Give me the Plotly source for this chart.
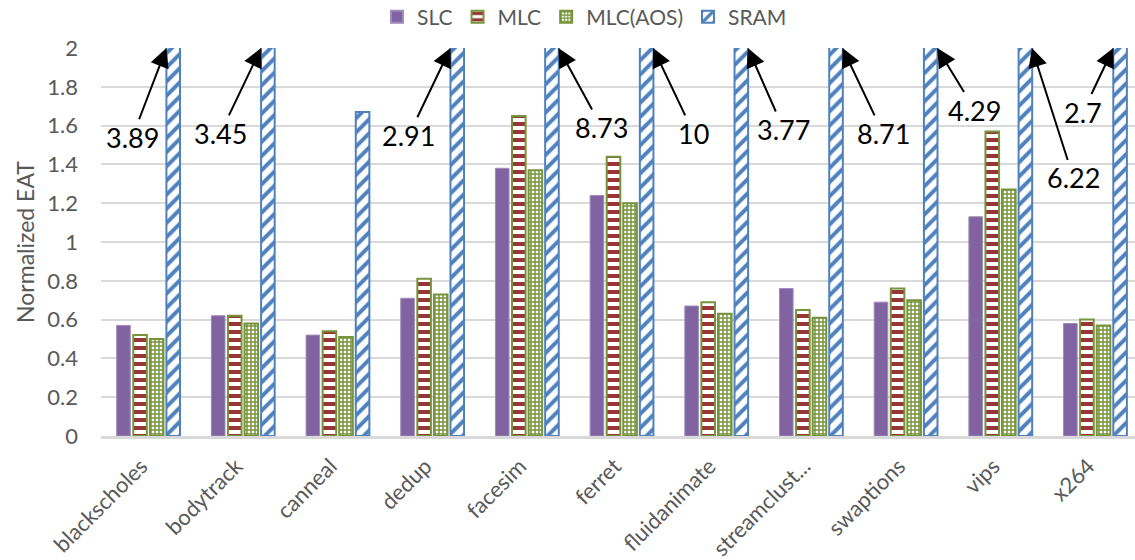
import plotly.graph_objects as go

# Benchmarks and normalized EAT per memory configuration
benchmarks = ["blackscholes", "bodytrack", "canneal", "dedup", "facesim", "ferret",
              "fluidanimate", "streamclust...", "swaptions", "vips", "x264"]
slc = [0.57, 0.62, 0.52, 0.71, 1.38, 1.24, 0.67, 0.76, 0.69, 1.13, 0.58]
mlc = [0.52, 0.62, 0.54, 0.81, 1.65, 1.44, 0.69, 0.65, 0.76, 1.57, 0.60]
mlc_aos = [0.50, 0.58, 0.51, 0.73, 1.37, 1.20, 0.63, 0.61, 0.70, 1.27, 0.57]
sram = [3.89, 3.45, 1.67, 2.91, 8.73, 10, 3.77, 8.71, 4.29, 6.22, 2.7]

y_ticks = [0, 0.2, 0.4, 0.6, 0.8, 1, 1.2, 1.4, 1.6, 1.8, 2]
y_max = 2

# Call-out placement for SRAM bars that run off the top of the axis:
# (benchmark index, label x offset, label y, arrow tip on left/right edge of bar)
callouts = [
    (0, -0.17, 1.54, "left"),
    (1, -0.24, 1.56, "left"),
    (3, -0.25, 1.55, "left"),
    (4, 0.79, 1.59, "right"),
    (5, 0.76, 1.56, "right"),
    (6, 0.71, 1.58, "right"),
    (7, 0.76, 1.56, "right"),
    (8, 0.73, 1.68, "right"),
    (9, 0.77, 1.33, "right"),
    (10, -0.13, 1.67, "left"),
]

FONT = "Lato, 'Open Sans', sans-serif"
GREY = "#595959"
GRID = "#D9D9D9"
PURPLE = "#8064A2"
RED = "#953735"
GREEN = "#77933C"
BLUE = "#4F81BD"

fig = go.Figure()
fig.add_bar(name="SLC", x=benchmarks, y=slc,
            marker=dict(color=PURPLE, line=dict(color="#9F8AB8", width=1)))
fig.add_bar(name="MLC", x=benchmarks, y=mlc,
            marker=dict(color="white", line=dict(color=GREEN, width=2),
                        pattern=dict(shape="-", fgcolor=RED, bgcolor="white",
                                     size=8, solidity=0.5, fillmode="replace")))
fig.add_bar(name="MLC(AOS)", x=benchmarks, y=mlc_aos,
            marker=dict(color="white", line=dict(color=GREEN, width=2),
                        pattern=dict(shape="+", fgcolor=GREEN, bgcolor="white",
                                     size=4, solidity=0.6, fillmode="replace")))
fig.add_bar(name="SRAM", x=benchmarks, y=sram,
            marker=dict(color="white", line=dict(color=BLUE, width=2),
                        pattern=dict(shape="/", fgcolor=BLUE, bgcolor="white",
                                     size=10, solidity=0.4, fillmode="replace")))

# Offset of the SRAM bar centre within each group (fraction of a category)
sram_offset = 0.261
half_bar = 0.07
for idx, dx, ty, side in callouts:
    tip_x = idx + sram_offset + (-half_bar if side == "left" else half_bar)
    fig.add_annotation(
        x=tip_x, y=y_max, xref="x", yref="y",
        ax=idx + dx, ay=ty, axref="x", ayref="y",
        text=str(sram[idx]), showarrow=True,
        arrowhead=2, arrowsize=1.9, arrowwidth=2, arrowcolor="black",
        font=dict(family=FONT, size=27, color="black"),
    )

fig.update_layout(
    width=1135, height=560, autosize=False,
    margin=dict(l=101, r=0, t=48, b=124, autoexpand=False),
    paper_bgcolor="white", plot_bgcolor="white",
    barmode="group", bargap=0.30, bargroupgap=0.18,
    font=dict(family=FONT, size=22, color=GREY),
    showlegend=True,
    legend=dict(orientation="h", xref="container", yref="container",
                x=0.515, y=1 - 17 / 560, xanchor="center", yanchor="middle",
                font=dict(family=FONT, size=21, color=GREY),
                bgcolor="rgba(0,0,0,0)", itemsizing="constant"),
    xaxis=dict(range=[-0.5, 10.42], tickangle=-45, showgrid=False,
               showline=True, linecolor=GRID, linewidth=2.5, automargin=False,
               ticks="", ticklabelshift=-7, ticklabelstandoff=6,
               tickfont=dict(family=FONT, size=22, color=GREY)),
    yaxis=dict(range=[0, y_max], tickvals=y_ticks, showgrid=True,
               gridcolor=GRID, gridwidth=1.5, zeroline=False, showline=False,
               ticks="", ticklabelstandoff=22, automargin=False,
               tickfont=dict(family=FONT, size=22, color=GREY),
               title=dict(text="Normalized EAT", standoff=6,
                          font=dict(family=FONT, size=23, color=GREY))),
)

fig.write_html("out.html")
